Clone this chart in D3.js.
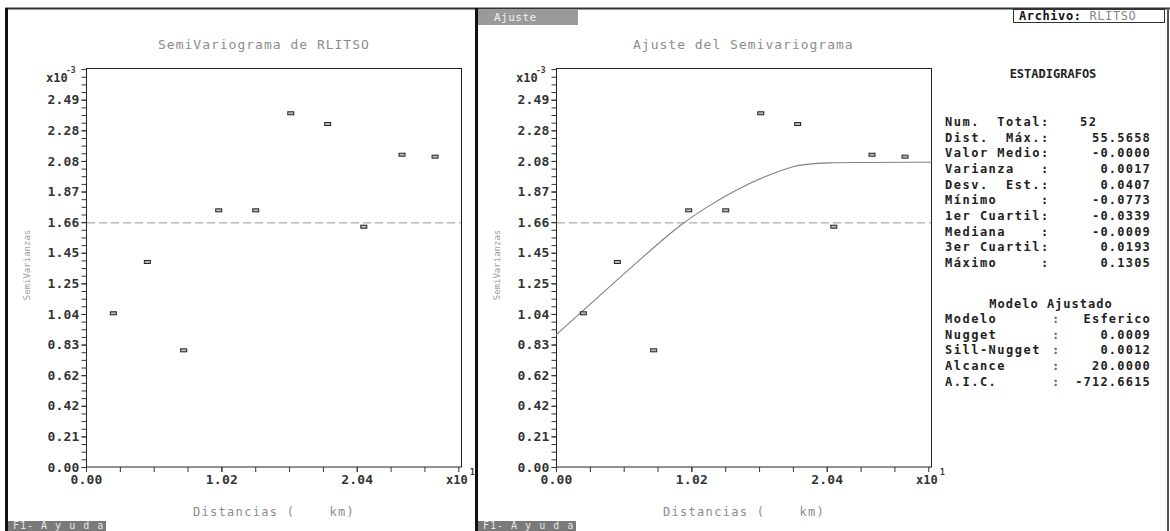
<!DOCTYPE html>
<html>
<head>
<meta charset="utf-8">
<script src="https://cdn.jsdelivr.net/npm/d3@7"></script>
<style>
  body { margin: 0; background: #fff; }
  svg { display: block; }
  text { font-family: "DejaVu Sans Mono", "Liberation Mono", monospace; white-space: pre; }
</style>
</head>
<body>
<svg id="chart" width="1170" height="531"></svg>
<script>
// distances (x10 km) and semivariances (x10^-3)
const distances = [0.206, 0.462, 0.736, 1.000, 1.279, 1.543, 1.821, 2.093, 2.381, 2.630];
const semivar = [1.042, 1.390, 0.791, 1.740, 1.740, 2.398, 2.325, 1.629, 2.117, 2.104];
const variance = 1.655;

// fitted spherical model
const modelX = [0, 0.216, 0.469, 0.70, 0.947, 1.16, 1.30, 1.45, 1.588, 1.788, 1.927, 2.83];
const modelY = [0.895, 1.07, 1.275, 1.46, 1.652, 1.775, 1.85, 1.92, 1.975, 2.040, 2.066, 2.066];

const yTickLabels = ['0.00', '0.21', '0.42', '0.62', '0.83', '1.04', '1.25', '1.45', '1.66', '1.87', '2.08', '2.28', '2.49'];
const xTickLabels = ['0.00', '1.02', '2.04'];
const yStep = 0.2075, xStep = 1.02;

const statLabels = ['Num.  Total:', 'Dist.  Máx.:', 'Valor Medio:', 'Varianza   :', 'Desv.  Est.:',
                    'Mínimo     :', '1er Cuartil:', 'Mediana    :', '3er Cuartil:', 'Máximo     :'];
const statValues = ['52', '55.5658', '-0.0000', '0.0017', '0.0407', '-0.0773', '-0.0339', '-0.0009', '0.0193', '0.1305'];
const modelLabels = ['Modelo', 'Nugget', 'Sill-Nugget', 'Alcance', 'A.I.C.'];
const modelValues = ['Esferico', '0.0009', '0.0012', '20.0000', '-712.6615'];

let svg = d3.select('#chart');

// outer frame
svg.append('line').attr('x1', 5).attr('x2', 1170).attr('y1', 8.5).attr('y2', 8.5)
    .attr('stroke', '#333').attr('stroke-width', 2);
[6.5, 476.5].forEach(function(x) {
    svg.append('line').attr('x1', x).attr('x2', x).attr('y1', 8).attr('y2', 531)
        .attr('stroke', '#111').attr('stroke-width', 3);
});
svg.append('line').attr('x1', 1168).attr('x2', 1168).attr('y1', 8).attr('y2', 531)
    .attr('stroke', '#555').attr('stroke-width', 2);

drawPanel(0, 'SemiVariograma de RLITSO', 158, false);
drawPanel(470, 'Ajuste del Semivariograma', 633, true);

// Ajuste tab
svg.append('rect').attr('x', 478).attr('y', 10).attr('width', 100).attr('height', 15).attr('fill', '#9a9a9a');
svg.append('text').attr('x', 494).attr('y', 21).attr('font-size', 11).attr('letter-spacing', 0.5)
    .attr('fill', '#f2f2f2').text('Ajuste');

// Archivo box
svg.append('rect').attr('x', 1013.5).attr('y', 9.5).attr('width', 151).attr('height', 13)
    .attr('fill', '#fff').attr('stroke', '#333');
let arch = svg.append('text').attr('x', 1019).attr('y', 20).attr('font-size', 12).attr('letter-spacing', 0.6);
arch.append('tspan').attr('font-weight', 'bold').attr('fill', '#111').text('Archivo: ');
arch.append('tspan').attr('fill', '#888').text('RLITSO');

// F1 help bars
[8, 478].forEach(function(x) {
    svg.append('rect').attr('x', x).attr('y', 521).attr('width', 98).attr('height', 10).attr('fill', '#7a7a7a');
    svg.append('text').attr('x', x + 5).attr('y', 529).attr('font-size', 10).attr('fill', '#e6e6e6')
        .attr('letter-spacing', 1.0).text('F1- A y u d a');
});

// statistics block
let stats = svg.append('g');
stats.append('text').attr('x', 1053).attr('y', 78).attr('text-anchor', 'middle')
    .attr('font-size', 12).attr('font-weight', 'bold').attr('fill', '#222').text('ESTADIGRAFOS');
statLabels.forEach(function(lab, i) {
    let yy = 126 + i * 15.65;
    stats.append('text').attr('x', 945).attr('y', yy).attr('font-size', 12).attr('font-weight', 'bold')
        .attr('letter-spacing', 1.5).attr('fill', '#222').text(lab);
    if (i === 0) {
        stats.append('text').attr('x', 1080).attr('y', yy).attr('font-size', 12).attr('font-weight', 'bold')
            .attr('letter-spacing', 1.5).attr('fill', '#222').text(statValues[i]);
    } else {
        stats.append('text').attr('x', 1151).attr('y', yy).attr('text-anchor', 'end').attr('font-size', 12)
            .attr('font-weight', 'bold').attr('letter-spacing', 1.2).attr('fill', '#222').text(statValues[i]);
    }
});
stats.append('text').attr('x', 1051).attr('y', 308).attr('text-anchor', 'middle').attr('font-size', 12)
    .attr('font-weight', 'bold').attr('letter-spacing', 1).attr('fill', '#222').text('Modelo Ajustado');
modelLabels.forEach(function(lab, i) {
    let yy = 323 + i * 15.65;
    stats.append('text').attr('x', 945).attr('y', yy).attr('font-size', 12).attr('font-weight', 'bold')
        .attr('letter-spacing', 1.5).attr('fill', '#222').text(lab);
    stats.append('text').attr('x', 1052).attr('y', yy).attr('font-size', 12).attr('font-weight', 'bold')
        .attr('fill', '#666').text(':');
    stats.append('text').attr('x', 1151).attr('y', yy).attr('text-anchor', 'end').attr('font-size', 12)
        .attr('font-weight', 'bold').attr('letter-spacing', 1.2).attr('fill', '#222').text(modelValues[i]);
});

function drawPanel(dx, title, titleX, withModel) {
    let g = svg.append('g').attr('transform', 'translate(' + dx + ',0)');
    let x = d3.scaleLinear().domain([0, 2.833]).range([86, 462]);
    let y = d3.scaleLinear().domain([0, 2.705]).range([467, 68]);

    g.append('text').attr('x', titleX - dx).attr('y', 49).attr('font-size', 13)
        .attr('letter-spacing', 1).attr('fill', '#8c8c8c').text(title);

    // plot box
    g.append('rect').attr('x', 86.5).attr('y', 68.5).attr('width', 375).attr('height', 398.5)
        .attr('fill', 'none').attr('stroke', '#222');

    // minor ticks
    let yMinor = d3.range(0, 2.70, yStep / 4);
    let xMinor = d3.range(0, 2.83, xStep / 4);
    g.append('g').attr('transform', 'translate(86.5,0)')
        .call(d3.axisLeft(y).tickValues(yMinor).tickFormat('').tickSize(5).tickSizeOuter(0))
        .call(a => a.select('.domain').remove());
    g.append('g').attr('transform', 'translate(0,467)')
        .call(d3.axisBottom(x).tickValues(xMinor).tickFormat('').tickSize(5).tickSizeOuter(0))
        .call(a => a.select('.domain').remove());

    // labelled ticks
    let yAxis = g.append('g').attr('transform', 'translate(86.5,0)')
        .call(d3.axisLeft(y).tickValues(yTickLabels.map((d, i) => i * yStep))
            .tickFormat((d, i) => yTickLabels[i]).tickSize(5).tickSizeOuter(0).tickPadding(2));
    yAxis.select('.domain').remove();
    yAxis.selectAll('text').attr('font-size', 13).attr('font-weight', 'bold')
        .attr('font-family', '"DejaVu Sans Mono", monospace').attr('fill', '#333').attr('letter-spacing', 0.2);

    let xAxis = g.append('g').attr('transform', 'translate(0,467)')
        .call(d3.axisBottom(x).tickValues(xTickLabels.map((d, i) => i * xStep))
            .tickFormat((d, i) => xTickLabels[i]).tickSize(5).tickSizeOuter(0).tickPadding(3));
    xAxis.select('.domain').remove();
    xAxis.selectAll('text').attr('font-size', 13).attr('font-weight', 'bold')
        .attr('font-family', '"DejaVu Sans Mono", monospace').attr('fill', '#333').attr('letter-spacing', 0.2);
    g.selectAll('.tick line').attr('stroke', '#333');

    // exponents
    g.append('text').attr('x', 46).attr('y', 82).attr('font-size', 12).attr('font-weight', 'bold').attr('fill', '#333').text('x10');
    g.append('text').attr('x', 66).attr('y', 73).attr('font-size', 8).attr('font-weight', 'bold').attr('fill', '#333').text('-3');
    g.append('text').attr('x', 446).attr('y', 484).attr('font-size', 12).attr('font-weight', 'bold').attr('fill', '#333').text('x10');
    g.append('text').attr('x', 470).attr('y', 475).attr('font-size', 8).attr('font-weight', 'bold').attr('fill', '#333').text('1');

    // axis titles
    g.append('text').attr('x', 193).attr('y', 516).attr('font-size', 12).attr('letter-spacing', 1.3)
        .attr('fill', '#8c8c8c').text('Distancias (    km)');
    g.append('text').attr('transform', 'translate(30,265) rotate(-90)').attr('text-anchor', 'middle')
        .attr('font-size', 9).attr('fill', '#a0a0a0').text('SemiVarianzas');

    // variance reference line
    g.append('line').attr('x1', 87).attr('x2', 461).attr('y1', y(variance)).attr('y2', y(variance))
        .attr('stroke', '#999').attr('stroke-dasharray', '8,4');

    if (withModel) {
        let line = d3.line().x(d => x(d[0])).y(d => y(d[1])).curve(d3.curveBasis);
        g.append('path').datum(modelX.map((d, i) => [d, modelY[i]]))
            .attr('d', line).attr('fill', 'none').attr('stroke', '#808080').attr('stroke-width', 1.1);
    }

    g.append('g').selectAll('rect')
        .data(distances)
        .enter()
        .append('rect')
        .attr('x', (d) => x(d) - 3)
        .attr('y', (d, i) => y(semivar[i]) - 1.5)
        .attr('width', 6)
        .attr('height', 3)
        .attr('fill', '#bbb')
        .attr('stroke', '#222');
}
</script>
</body>
</html>
